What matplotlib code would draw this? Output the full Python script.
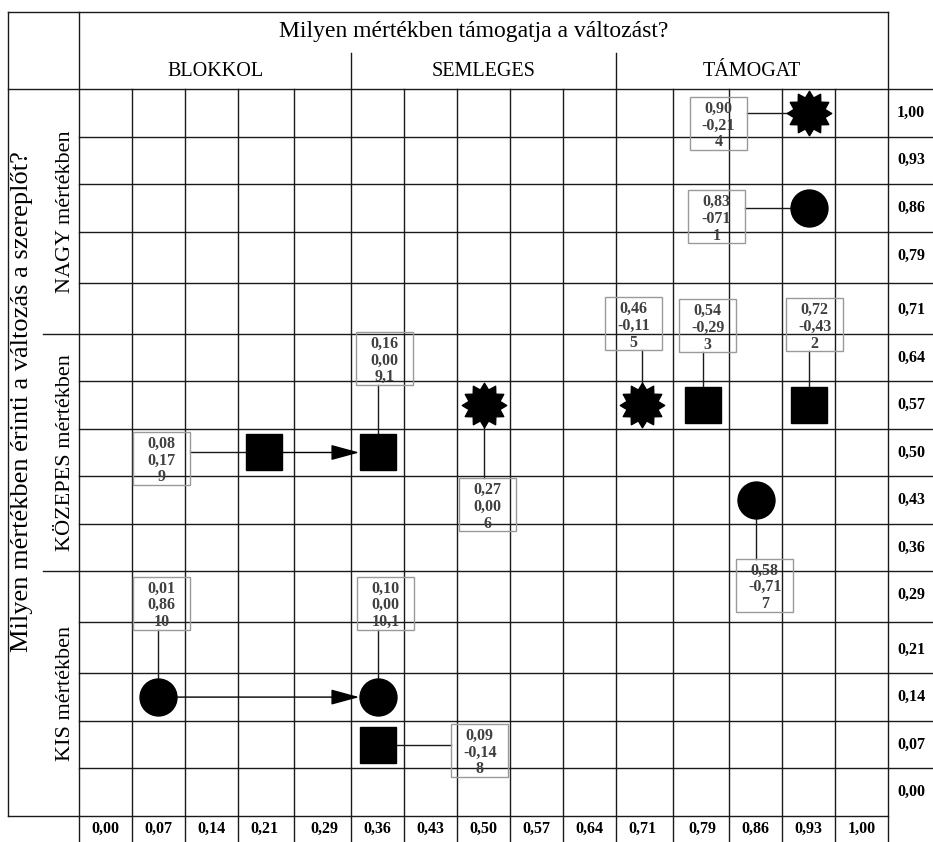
import matplotlib
matplotlib.use("Agg")
import matplotlib.pyplot as plt
from matplotlib.path import Path
from matplotlib.patches import Rectangle
from matplotlib.lines import Line2D
from matplotlib.transforms import blended_transform_factory as blend
import numpy as np

plt.rcParams['font.family'] = ['Liberation Serif', 'DejaVu Serif']

# ---------------- data ----------------
tick_labels = ["0,00", "0,07", "0,14", "0,21", "0,29", "0,36", "0,43", "0,50",
               "0,57", "0,64", "0,71", "0,79", "0,86", "0,93", "1,00"]
tick_values = [0.00, 0.07, 0.14, 0.21, 0.29, 0.36, 0.43, 0.50,
               0.57, 0.64, 0.71, 0.79, 0.86, 0.93, 1.00]

col_groups = ["BLOKKOL", "SEMLEGES", "TÁMOGAT"]
row_groups = ["KIS mértékben", "KÖZEPES mértékben", "NAGY mértékben"]
title_x = "Milyen mértékben támogatja a változást?"
title_y = "Milyen mértékben érinti a változás a szereplőt?"

pt_x = [0.93, 0.93, 0.71, 0.79, 0.93, 0.86, 0.50, 0.21, 0.36, 0.07, 0.36, 0.36]
pt_y = [1.00, 0.86, 0.57, 0.57, 0.57, 0.43, 0.57, 0.50, 0.50, 0.14, 0.14, 0.07]
pt_shape = ['star', 'circle', 'star', 'square', 'square', 'circle', 'star',
            'square', 'square', 'circle', 'circle', 'square']
pt_val1 = ['0,90', '0,83', '0,46', '0,54', '0,72', '0,58', '0,27', '0,08', '0,16', '0,01', '0,10', '0,09']
pt_val2 = ['-0,21', '-071', '-0,11', '-0,29', '-0,43', '-0,71', '0,00', '0,17', '0,00', '0,86', '0,00', '-0,14']
pt_id = ['4', '1', '5', '3', '2', '7', '6', '9', '9,1', '10', '10,1', '8']

arrow_x0 = [0.21, 0.07]
arrow_x1 = [0.36, 0.36]
arrow_y = [0.50, 0.14]

# label box offsets from marker (pixels, +dy = downward) -- layout only
box_dx = [-90, -92, -9, 5, 6, 9, 4, -103, 7, 3, 8, 102]
box_dy = [11, 9, -81, -79, -80, 85, 100, 6, -94, -94, -94, 6]

# ---------------- layout ----------------
W, H = 933, 842
X0, X1, Y0, Y1 = 79, 888, 89, 816   # grid area in pixels
fig = plt.figure(figsize=(W / 100, H / 100), dpi=100)
ax = fig.add_axes([X0 / W, (H - Y1) / H, (X1 - X0) / W, (Y1 - Y0) / H])
ax.set_xlim(-0.035, 1.035)
ax.set_ylim(-0.035, 1.035)
ax.axis('off')


def ay(py):
    return (Y1 - py) / (Y1 - Y0)


def axx(px):
    return (px - X0) / (X1 - X0)


vt = blend(ax.transData, ax.transAxes)
ht = blend(ax.transAxes, ax.transData)
LC = '#1a1a1a'
LW = 1.0

edges = [-0.035] + [(a + b) / 2 for a, b in zip(tick_values[:-1], tick_values[1:])] + [1.035]
n = len(edges)

# vertical grid lines
for i, e in enumerate(edges):
    if i in (0, n - 1):
        top = ay(12)
    elif i in (5, 10):
        top = ay(53)
    else:
        top = 1.0
    ax.plot([e, e], [top, ay(842)], transform=vt, clip_on=False, color=LC, lw=LW)

# horizontal grid lines
for j, e in enumerate(edges):
    if j == 0:
        x0, x1 = axx(8), 1.0
    elif j == n - 1:
        x0, x1 = axx(8), axx(933)
    elif j in (5, 10):
        x0, x1 = axx(43), axx(933)
    else:
        x0, x1 = 0.0, axx(933)
    ax.plot([x0, x1], [e, e], transform=ht, clip_on=False, color=LC, lw=LW)

# outer frame
fig.add_artist(Line2D([8 / W, 8 / W], [1 - 12 / H, 1 - 816 / H], transform=fig.transFigure, color=LC, lw=LW))
fig.add_artist(Line2D([8 / W, 888 / W], [1 - 12 / H, 1 - 12 / H], transform=fig.transFigure, color=LC, lw=LW))

# header texts
fig.text(474 / W, 1 - 32 / H, title_x, ha='center', va='center', fontsize=17)
for k, g in enumerate(col_groups):
    cx = (edges[5 * k] + edges[5 * k + 5]) / 2
    ax.text(cx, ay(72), g, transform=vt, ha='center', va='center', fontsize=14.5, clip_on=False)

# left texts
fig.text(22 / W, 1 - 402 / H, title_y, rotation=90, ha='center', va='center', fontsize=19)
for k, g in enumerate(row_groups):
    cy = (edges[5 * k] + edges[5 * k + 5]) / 2
    ax.text(axx(65), cy, g, transform=ht, rotation=90, ha='center', va='center',
            fontsize=16, clip_on=False)

# tick labels
for v, lab in zip(tick_values, tick_labels):
    ax.text(v, ay(829), lab, transform=vt, ha='center', va='center', fontsize=11.5,
            fontweight='bold', clip_on=False)
    ax.text(axx(911), v, lab, transform=ht, ha='center', va='center', fontsize=11.5,
            fontweight='bold', clip_on=False)

# star marker path (12 points)
npts = 12
ang = np.pi / 2 + np.arange(2 * npts) * np.pi / npts
rad = np.where(np.arange(2 * npts) % 2 == 0, 1.0, 0.72)
star_verts = np.column_stack([rad * np.cos(ang), rad * np.sin(ang)])
star_verts = np.vstack([star_verts, star_verts[:1]])
star = Path(star_verts, closed=True)

marker_style = {'star': (star, 32), 'circle': ('o', 26.6), 'square': ('s', 26.6)}

for x, y, s in zip(pt_x, pt_y, pt_shape):
    m, ms = marker_style[s]
    ax.plot([x], [y], marker=m, ms=ms, color='black', mec='black', ls='none',
            zorder=5, clip_on=False)

# arrows
for xa, xb, ya in zip(arrow_x0, arrow_x1, arrow_y):
    ax.annotate('', xy=(xb, ya), xytext=(xa, ya),
                arrowprops=dict(arrowstyle='-|>,head_length=1.1,head_width=0.3',
                                mutation_scale=16, color='black', lw=1,
                                shrinkA=13.3, shrinkB=13.3),
                zorder=4)

# label boxes
fig.canvas.draw()
inv = ax.transData.inverted()
BW, BH = 57, 53
for i in range(len(pt_x)):
    mx, my = ax.transData.transform((pt_x[i], pt_y[i]))
    cx, cy = mx + box_dx[i], my - box_dy[i]
    (x0, y0) = inv.transform((cx - BW / 2, cy - BH / 2))
    (x1, y1) = inv.transform((cx + BW / 2, cy + BH / 2))
    ax.add_patch(Rectangle((x0, y0), x1 - x0, y1 - y0, fill=False, ec='#9a9a9a', lw=1.0,
                           zorder=3, clip_on=False))
    tx, ty = inv.transform((cx, cy - 2))
    ax.text(tx, ty, f"{pt_val1[i]}\n{pt_val2[i]}\n{pt_id[i]}", ha='center', va='center',
            fontsize=11.5, fontweight='bold', color='#404040', linespacing=1.05, zorder=3,
            clip_on=False)
    if abs(box_dy[i]) > abs(box_dx[i]):
        ey = cy + BH / 2 if box_dy[i] > 0 else cy - BH / 2
        _, yy = inv.transform((mx, ey))
        ax.plot([pt_x[i], pt_x[i]], [yy, pt_y[i]], color=LC, lw=1, zorder=2, clip_on=False)
    else:
        ex = cx + BW / 2 if box_dx[i] < 0 else cx - BW / 2
        xx, _ = inv.transform((ex, my))
        ax.plot([xx, pt_x[i]], [pt_y[i], pt_y[i]], color=LC, lw=1, zorder=2, clip_on=False)

fig.savefig('out.png', dpi=100)
